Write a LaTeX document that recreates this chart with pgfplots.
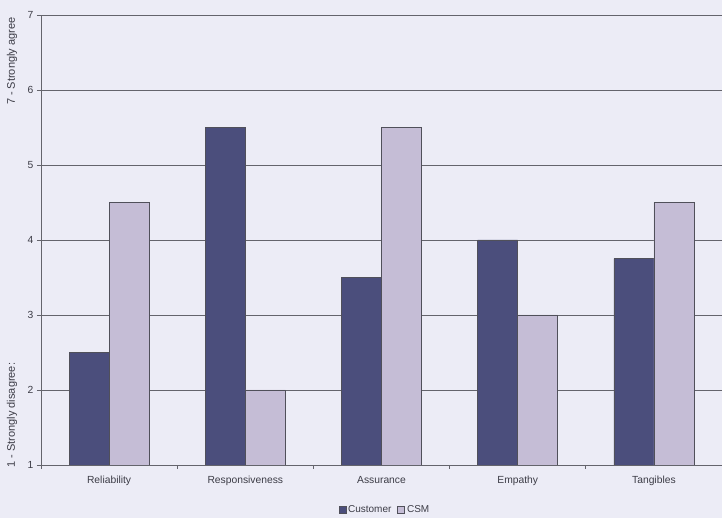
\documentclass[border=0pt]{standalone}
\usepackage{pgfplots}
\pgfplotsset{compat=1.18}
\usepackage{fontspec}
\setmainfont{Liberation Sans}
\definecolor{bg}{RGB}{236,236,246}
\definecolor{dark}{RGB}{75,78,124}
\definecolor{light}{RGB}{197,189,214}
\definecolor{gridc}{RGB}{100,100,108}
\definecolor{edgec}{RGB}{80,80,90}
\definecolor{txt}{RGB}{60,60,70}
\begin{document}
\begin{tikzpicture}[x=1pt,y=1pt]
\path[use as bounding box, fill=bg] (-41,-53) rectangle (681,465);
\begin{axis}[
  at={(0,0)}, anchor=south west,
  scale only axis, width=681pt, height=450pt,
  xmin=-0.5, xmax=4.5, ymin=1, ymax=7,
  axis lines*=left,
  axis line style={draw=gridc, line width=0.9pt},
  ytick={1,...,7},
  ymajorgrids, grid style={draw=gridc, line width=0.9pt},
  xtick={0,...,4},
  xticklabels={Reliability,Responsiveness,Assurance,Empathy,Tangibles},
  minor xtick={-0.5,0.5,...,4.5},
  tick align=outside,
  major tick length=4pt, minor tick length=4pt,
  x tick style={draw=none},
  minor x tick style={draw=gridc, line width=0.9pt},
  y tick style={draw=gridc, line width=0.9pt},
  tick label style={font=\fontsize{10.3}{12}\selectfont, text=txt},
  /pgf/number format/assume math mode=true,
  xticklabel style={yshift=-4pt},
  ybar, bar width=40pt,
  legend style={at={(0.505,-0.1)}, anchor=center, draw=none, fill=none,
    font=\fontsize{10}{12}\selectfont, text=txt, legend columns=2,
    /tikz/every even column/.append style={column sep=4pt},
    inner sep=0pt},
  legend image code/.code={\draw[#1, draw=edgec, line width=0.6pt] (0pt,-3.5pt) rectangle (7pt,3.5pt);},
]
\addplot[fill=dark, draw=edgec, line width=0.8pt, bar shift=-20pt] coordinates {(0,2.5) (1,5.5) (2,3.5) (3,4.0) (4,3.75)};
\addplot[fill=light, draw=edgec, line width=0.8pt, bar shift=20pt] coordinates {(0,4.5) (1,2.0) (2,5.5) (3,3.0) (4,4.5)};
\legend{Customer,CSM}
\end{axis}
\node[rotate=90, anchor=west, text=txt, font=\fontsize{11}{13}\selectfont] at (-29,-6) {1 - Strongly disagree:};
\node[rotate=90, anchor=east, text=txt, font=\fontsize{11}{13}\selectfont] at (-29,451) {7 - Strongly agree};
\end{tikzpicture}
\end{document}
